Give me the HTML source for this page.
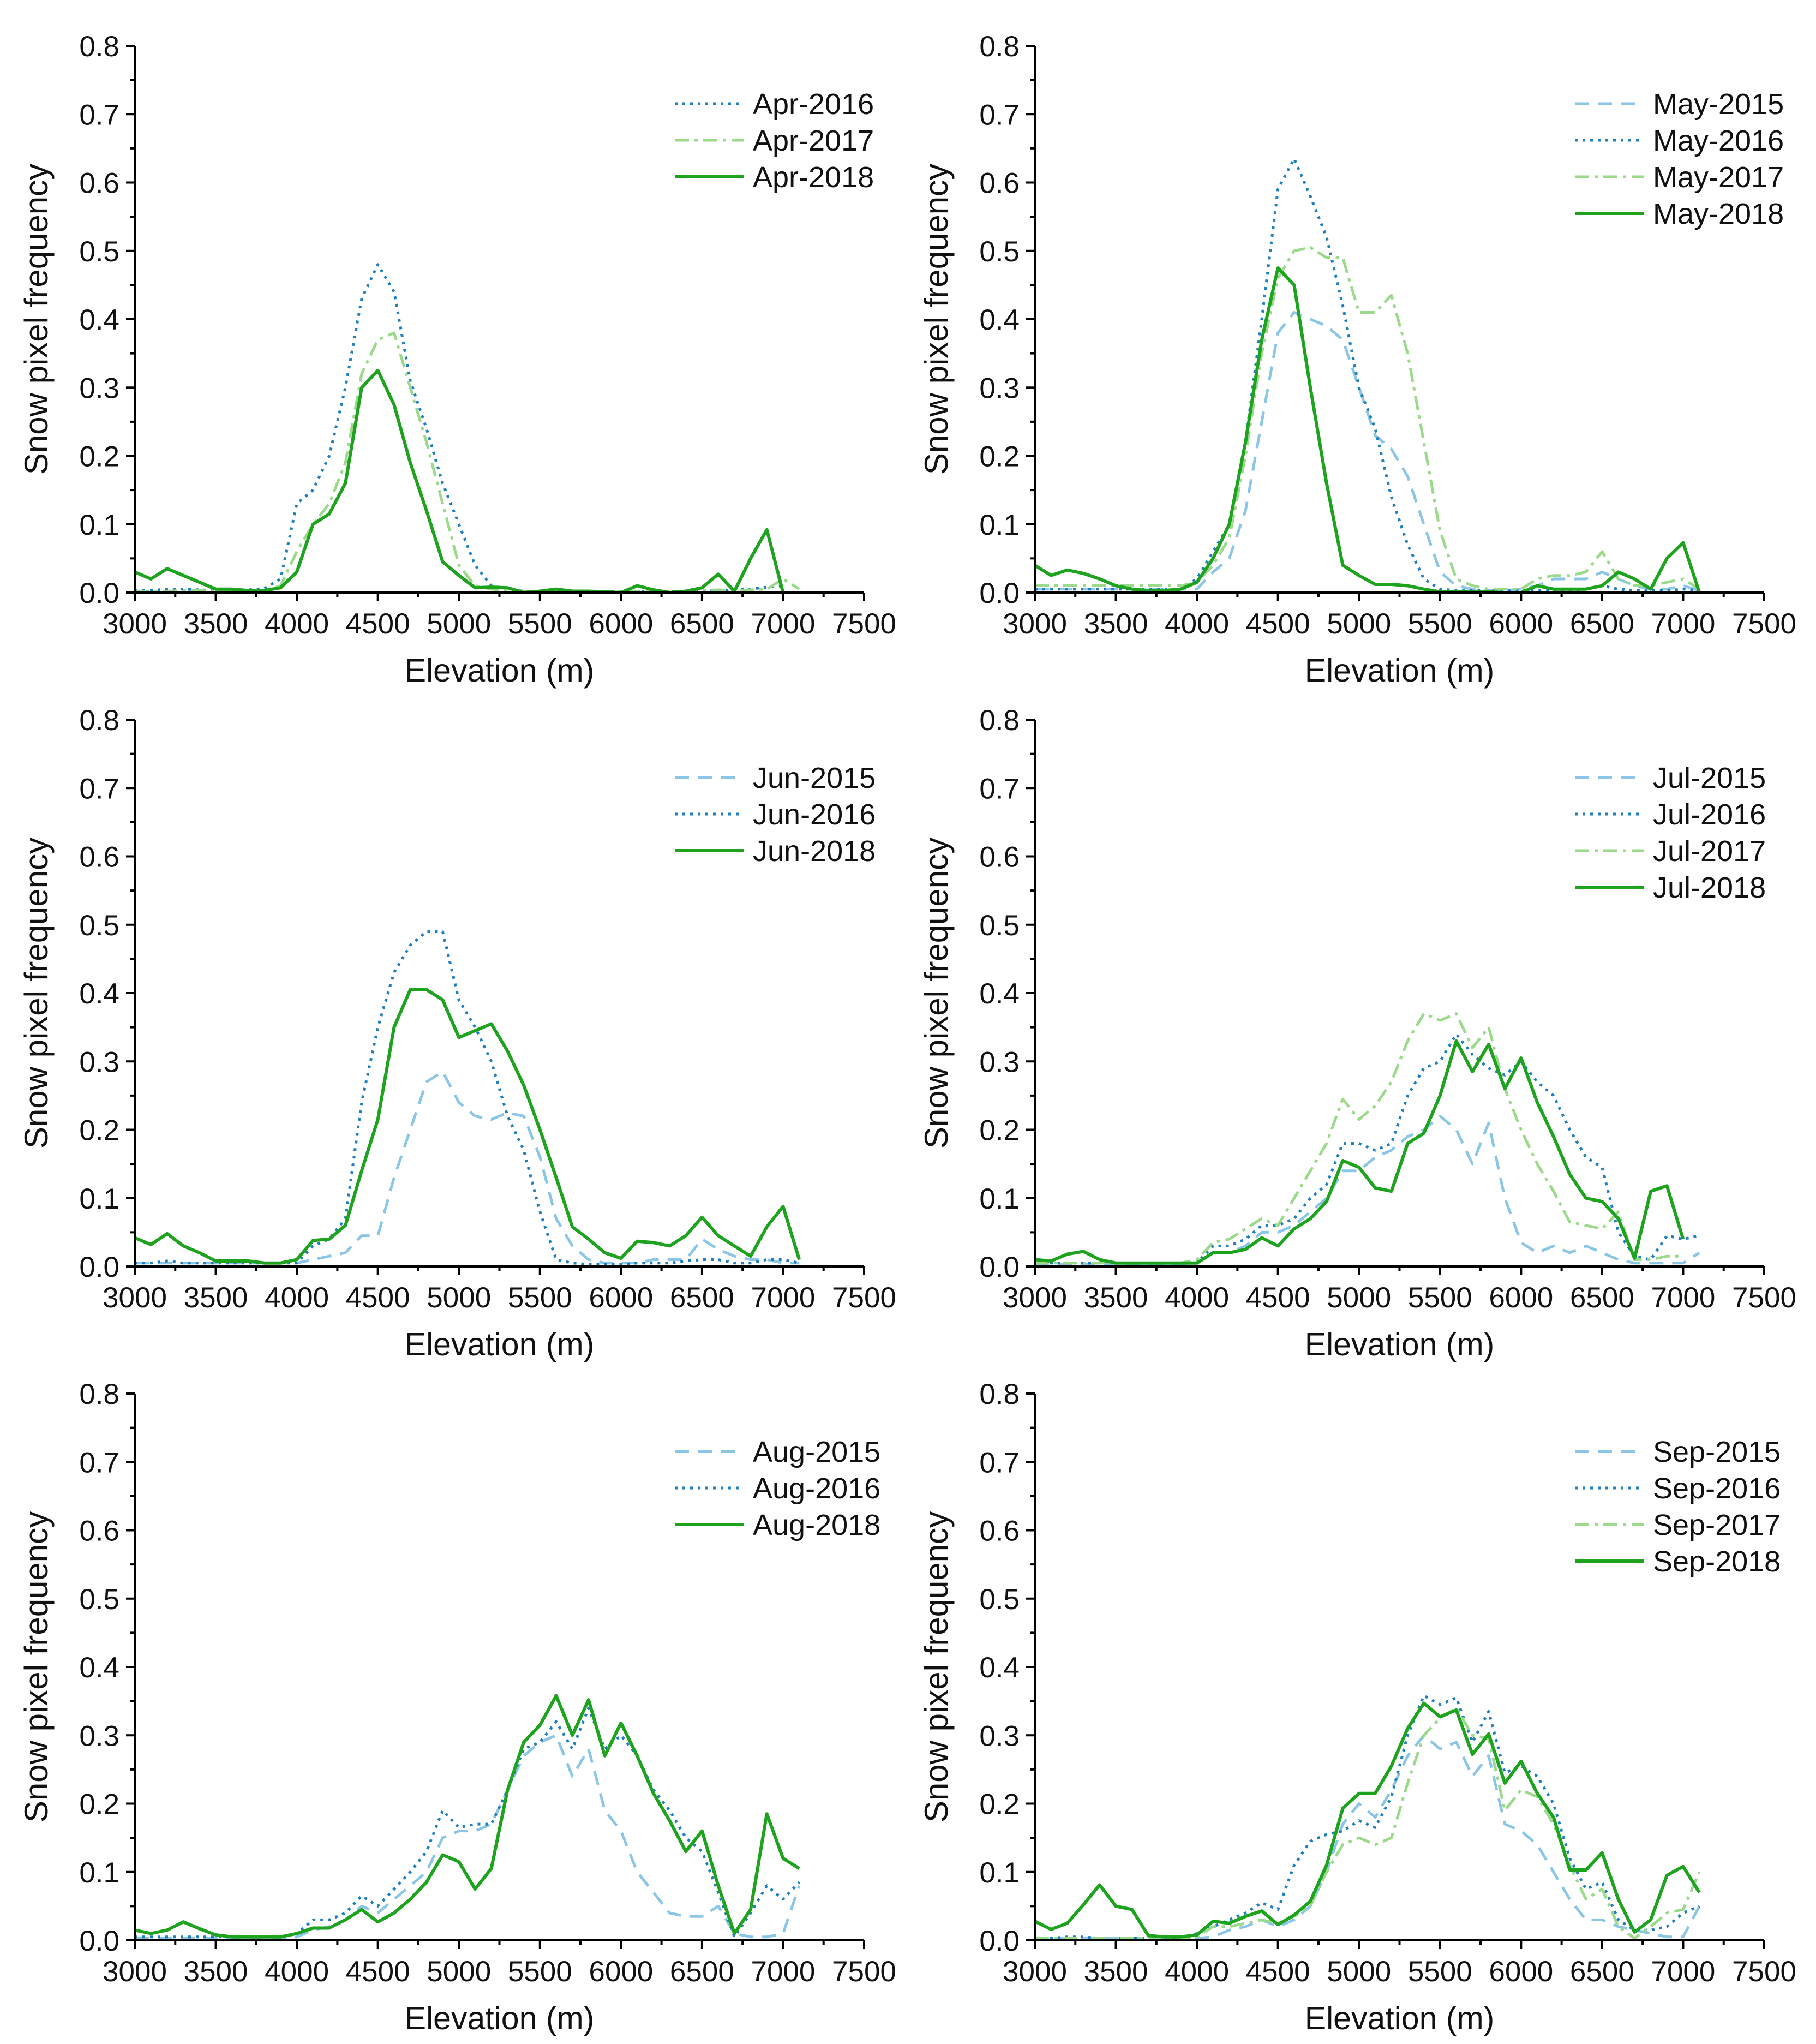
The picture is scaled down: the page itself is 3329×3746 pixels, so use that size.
<!DOCTYPE html>
<html><head><meta charset="utf-8">
<style>
html,body{margin:0;padding:0;background:#fff;}
svg{display:block;}
text{font-family:"Liberation Sans",Arial,sans-serif;fill:#111;}
</style></head>
<body>
<svg id="chart" width="3329" height="3746" viewBox="0 0 3329 3746" xmlns="http://www.w3.org/2000/svg"></svg>
<script>
const elevations = [3000,3100,3200,3300,3400,3500,3600,3700,3800,3900,4000,4100,4200,4300,4400,4500,4600,4700,4800,4900,5000,5100,5200,5300,5400,5500,5600,5700,5800,5900,6000,6100,6200,6300,6400,6500,6600,6700,6800,6900,7000,7100];
const xTicks = [3000,3500,4000,4500,5000,5500,6000,6500,7000,7500];
const yTicks = [0,0.1,0.2,0.3,0.4,0.5,0.6,0.7,0.8];
const yTickLabels = ["0.0","0.1","0.2","0.3","0.4","0.5","0.6","0.7","0.8"];

const apr2016 = [.003,.003,.005,.005,.004,.003,.003,.004,.006,.02,.13,.15,.2,.3,.43,.48,.44,.31,.24,.16,.1,.04,.01,.005,.002,.002,.002,.002,.002,.002,.002,.002,.002,.002,.002,.002,.003,.004,.005,.008,.01,null];
const apr2017 = [.002,.002,.002,.003,.003,.002,.002,.002,.003,.01,.06,.1,.13,.19,.32,.37,.38,.3,.22,.13,.04,.01,.005,.003,.002,.002,.002,.002,.002,.002,.002,.002,.002,.002,.002,.003,.004,.003,.004,.005,.02,.005];
const apr2018 = [.03,.02,.035,.025,.015,.005,.005,.003,.003,.007,.03,.1,.115,.16,.3,.325,.275,.19,.12,.045,.025,.007,.008,.007,0,.002,.005,.002,.002,.001,0,.01,.004,0,.002,.007,.027,.002,.05,.092,0,null];

const may2015 = [.005,.005,.005,.005,.005,.005,.005,.005,.005,.005,.005,.03,.05,.12,.25,.38,.41,.4,.39,.37,.3,.23,.21,.17,.1,.03,.01,.005,.003,.003,.005,.01,.02,.02,.02,.03,.02,.01,.005,.005,.01,.003];
const may2016 = [.005,.005,.005,.005,.005,.005,.005,.005,.005,.005,.02,.06,.1,.22,.4,.59,.635,.58,.52,.42,.3,.24,.14,.07,.02,.005,.003,.003,.003,.003,.003,.003,.003,.003,.005,.01,.005,.003,.003,.003,.005,.003];
const may2017 = [.01,.01,.01,.01,.01,.01,.01,.01,.01,.01,.015,.04,.08,.2,.35,.46,.5,.505,.49,.49,.41,.41,.435,.35,.22,.09,.02,.01,.005,.005,.005,.02,.025,.025,.03,.06,.02,.01,.01,.015,.02,.005];
const may2018 = [.04,.025,.033,.028,.02,.01,.005,.003,.003,.005,.015,.05,.1,.22,.37,.475,.45,.3,.16,.04,.025,.012,.012,.01,.005,.001,.001,.001,.001,0,0,.01,.005,.005,.005,.01,.03,.02,.005,.05,.073,0];

const jun2015 = [.005,.005,.005,.005,.005,.005,.005,.005,.005,.005,.005,.01,.015,.02,.045,.045,.13,.2,.27,.285,.24,.22,.215,.225,.22,.16,.07,.03,.01,.005,.005,.005,.01,.01,.01,.04,.025,.015,.01,.01,.005,.005];
const jun2016 = [.005,.005,.008,.005,.005,.005,.005,.005,.005,.005,.005,.03,.04,.07,.24,.35,.43,.47,.49,.49,.39,.35,.3,.22,.17,.08,.01,.005,.003,.003,.003,.005,.005,.005,.008,.01,.01,.005,.005,.01,.01,.005];
const jun2018 = [.042,.032,.048,.03,.02,.008,.008,.008,.005,.005,.01,.038,.04,.06,.14,.215,.35,.405,.405,.39,.335,.345,.355,.315,.265,.2,.13,.058,.04,.02,.012,.037,.035,.03,.045,.072,.045,.03,.015,.058,.088,.01];

const jul2015 = [.003,.003,.003,.003,.003,.003,.003,.003,.003,.003,.005,.02,.02,.03,.05,.05,.06,.08,.1,.14,.14,.16,.17,.19,.2,.22,.2,.15,.21,.1,.035,.02,.03,.02,.03,.02,.01,.005,.005,.005,.005,.02];
const jul2016 = [.005,.005,.005,.005,.005,.005,.005,.005,.005,.005,.005,.03,.03,.04,.06,.06,.07,.1,.12,.18,.18,.17,.18,.25,.29,.3,.34,.31,.29,.28,.3,.27,.25,.2,.16,.145,.05,.015,.01,.045,.04,.045];
const jul2017 = [.005,.005,.005,.005,.005,.005,.005,.005,.005,.005,.01,.035,.04,.055,.07,.06,.1,.14,.18,.245,.215,.235,.27,.33,.37,.36,.37,.32,.35,.26,.2,.15,.11,.065,.06,.055,.08,.01,.01,.015,.015,null];
const jul2018 = [.01,.008,.018,.022,.01,.005,.005,.005,.005,.005,.005,.02,.02,.025,.042,.03,.055,.07,.095,.155,.145,.115,.11,.18,.195,.25,.33,.285,.325,.26,.305,.24,.19,.135,.1,.095,.07,.012,.11,.118,.04,null];

const aug2015 = [.003,.003,.003,.003,.003,.003,.003,.003,.003,.003,.005,.015,.02,.03,.05,.04,.06,.08,.1,.15,.16,.16,.17,.22,.27,.29,.3,.24,.28,.19,.16,.1,.07,.04,.035,.035,.05,.01,.005,.005,.01,.08];
const aug2016 = [.005,.005,.005,.005,.005,.005,.005,.005,.005,.005,.01,.03,.03,.04,.065,.05,.075,.1,.13,.19,.165,.17,.17,.22,.28,.29,.32,.28,.34,.28,.3,.27,.22,.19,.15,.13,.07,.005,.04,.08,.06,.085];
const aug2018 = [.015,.01,.015,.027,.017,.008,.005,.005,.005,.005,.01,.018,.018,.03,.045,.027,.04,.06,.085,.125,.115,.075,.105,.22,.29,.315,.358,.3,.352,.27,.318,.27,.215,.175,.13,.16,.08,.01,.045,.185,.12,.105];

const sep2015 = [.003,.003,.003,.003,.003,.003,.003,.003,.003,.003,.003,.005,.015,.02,.03,.02,.03,.05,.1,.17,.2,.18,.22,.27,.3,.28,.29,.24,.27,.17,.16,.14,.1,.06,.03,.03,.02,.015,.01,.005,.005,.05];
const sep2016 = [.003,.003,.005,.005,.003,.003,.003,.003,.003,.003,.01,.02,.03,.04,.055,.045,.11,.145,.155,.16,.175,.165,.21,.3,.358,.345,.355,.29,.335,.245,.255,.24,.2,.12,.075,.085,.03,.015,.015,.02,.04,.05];
const sep2017 = [.003,.003,.003,.003,.003,.003,.003,.003,.003,.003,.005,.02,.02,.025,.03,.025,.035,.05,.1,.14,.15,.14,.15,.23,.3,.325,.34,.3,.295,.19,.22,.21,.17,.11,.06,.075,.02,.003,.02,.04,.045,.1];
const sep2018 = [.028,.016,.025,.052,.081,.05,.045,.007,.005,.005,.008,.028,.025,.035,.043,.023,.037,.057,.11,.193,.215,.215,.255,.31,.347,.327,.337,.272,.302,.23,.262,.215,.18,.103,.103,.128,.06,.012,.03,.095,.108,.07];

const STY = {
  s2015:{c:"#8cc6e6",w:5,d:"26 16"},
  s2016:{c:"#1f7fbf",w:5,d:"5 9"},
  s2017:{c:"#9bd98b",w:5,d:"26 10 6 10"},
  s2018:{c:"#1ea31e",w:6,d:""}
};
const panels = [
  {id:"apr",x:247,y:1086,series:[["Apr-2016",apr2016,"s2016"],["Apr-2017",apr2017,"s2017"],["Apr-2018",apr2018,"s2018"]]},
  {id:"may",x:1897,y:1086,series:[["May-2015",may2015,"s2015"],["May-2016",may2016,"s2016"],["May-2017",may2017,"s2017"],["May-2018",may2018,"s2018"]]},
  {id:"jun",x:247,y:2321,series:[["Jun-2015",jun2015,"s2015"],["Jun-2016",jun2016,"s2016"],["Jun-2018",jun2018,"s2018"]]},
  {id:"jul",x:1897,y:2321,series:[["Jul-2015",jul2015,"s2015"],["Jul-2016",jul2016,"s2016"],["Jul-2017",jul2017,"s2017"],["Jul-2018",jul2018,"s2018"]]},
  {id:"aug",x:247,y:3556,series:[["Aug-2015",aug2015,"s2015"],["Aug-2016",aug2016,"s2016"],["Aug-2018",aug2018,"s2018"]]},
  {id:"sep",x:1897,y:3556,series:[["Sep-2015",sep2015,"s2015"],["Sep-2016",sep2016,"s2016"],["Sep-2017",sep2017,"s2017"],["Sep-2018",sep2018,"s2018"]]}
];
const W=1337, H=1002;
const NS="http://www.w3.org/2000/svg";
const svg=document.getElementById("chart");
function mk(tag,attrs,parent){const e=document.createElementNS(NS,tag);for(const k in attrs)e.setAttribute(k,attrs[k]);parent.appendChild(e);return e;}

panels.forEach(p=>{
  const g=mk("g",{},svg);
  
  
  const sx=v=>p.x+(v-3000)/4500*W;
  const sy=v=>p.y-v/0.8*H;
  p.series.forEach(s=>{
    const st=STY[s[2]];
    let d="",pen=false;
    s[1].forEach((v,i)=>{ if(v===null){pen=false;return;} d+=(pen?"L":"M")+sx(elevations[i]).toFixed(1)+" "+sy(v).toFixed(1); pen=true;});
    const pth=mk("path",{d:d,fill:"none",stroke:st.c,"stroke-width":st.w,"stroke-dasharray":st.d,"stroke-linejoin":"round"},g);
    
    
  });
  const ax=mk("path",{d:`M${p.x} ${p.y-H}V${p.y}H${p.x+W}`,stroke:"#000","stroke-width":4,fill:"none"},g);
  
  
  let tk="";
  for(let v=3000;v<=7500;v+=250){const X=sx(v);tk+=`M${X} ${p.y}v${v%500===0?16:9}`;}
  for(let k=0;k<=16;k++){const Y=sy(k*0.05);tk+=`M${p.x} ${Y}h${k%2===0?-16:-9}`;}
  mk("path",{d:tk,stroke:"#000","stroke-width":4},g);
  xTicks.forEach(v=>{
    const t=mk("text",{x:sx(v),y:p.y+75,"text-anchor":"middle","font-size":53},g);
    t.textContent=v;
    
    
  });
  yTicks.forEach((v,i)=>{
    const t=mk("text",{x:p.x-28,y:sy(v)+19,"text-anchor":"end","font-size":53},g);
    t.textContent=yTickLabels[i];
    
    
  });
  const xt=mk("text",{x:p.x+W/2,y:p.y+163,"text-anchor":"middle","font-size":59},g);
  xt.textContent="Elevation (m)";
  
  
  const cy=p.y-H/2;
  const yt=mk("text",{x:p.x-160,y:cy,"text-anchor":"middle","font-size":60,transform:`rotate(-90 ${p.x-160} ${cy})`},g);
  yt.textContent="Snow pixel frequency";
  
  
  p.series.forEach((s,i)=>{
    const st=STY[s[2]];
    const ly=p.y-H+106+i*67;
    const lg=mk("g",{},g);
    
    
    mk("line",{x1:p.x+990,x2:p.x+1117,y1:ly,y2:ly,stroke:st.c,"stroke-width":st.w,"stroke-dasharray":st.d},lg);
    const t=mk("text",{x:p.x+1133,y:ly+19,"font-size":54},lg);
    t.textContent=s[0];
  });
});
</script>
</body></html>
